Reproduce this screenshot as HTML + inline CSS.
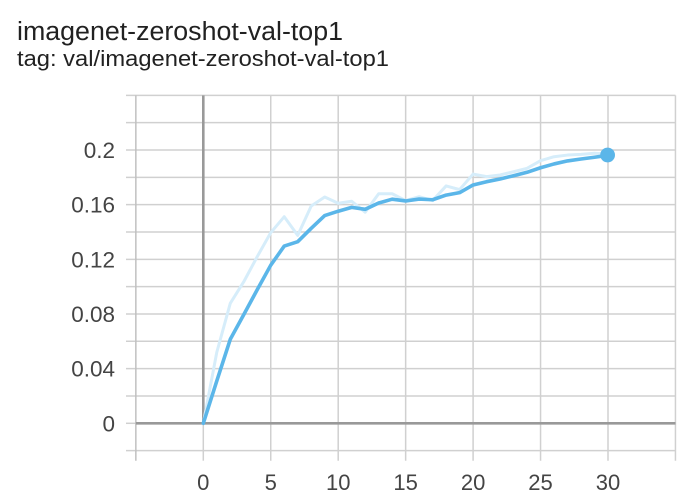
<!DOCTYPE html>
<html>
<head>
<meta charset="utf-8">
<style>
  html, body { margin: 0; padding: 0; background: #ffffff; }
  body { width: 692px; height: 502px; overflow: hidden; }
  svg { display: block; }
  text { font-family: "Liberation Sans", Arial, sans-serif; }
</style>
</head>
<body>
<svg width="692" height="502" viewBox="0 0 692 502" xmlns="http://www.w3.org/2000/svg">
  <rect x="0" y="0" width="692" height="502" fill="#ffffff"/>

  <!-- Title -->
  <text x="17" y="40" font-size="25.5" fill="#212121" textLength="326" lengthAdjust="spacingAndGlyphs">imagenet-zeroshot-val-top1</text>
  <text x="17" y="66" font-size="22" fill="#212121" textLength="372" lengthAdjust="spacingAndGlyphs">tag: val/imagenet-zeroshot-val-top1</text>

  <!-- Horizontal grid lines (with left tick extension) -->
  <g stroke="#d0d0d0" stroke-width="1.5" fill="none">
    <line x1="126" y1="450.63" x2="675.45" y2="450.63"/>
    <line x1="126" y1="423.3" x2="136" y2="423.3"/>
    <line x1="126" y1="395.97" x2="675.45" y2="395.97"/>
    <line x1="126" y1="368.64" x2="675.45" y2="368.64"/>
    <line x1="126" y1="341.31" x2="675.45" y2="341.31"/>
    <line x1="126" y1="313.98" x2="675.45" y2="313.98"/>
    <line x1="126" y1="286.65" x2="675.45" y2="286.65"/>
    <line x1="126" y1="259.32" x2="675.45" y2="259.32"/>
    <line x1="126" y1="231.99" x2="675.45" y2="231.99"/>
    <line x1="126" y1="204.66" x2="675.45" y2="204.66"/>
    <line x1="126" y1="177.33" x2="675.45" y2="177.33"/>
    <line x1="126" y1="150.0" x2="675.45" y2="150.0"/>
    <line x1="126" y1="122.67" x2="675.45" y2="122.67"/>
    <line x1="126" y1="95.34" x2="675.45" y2="95.34"/>
  </g>

  <!-- Vertical grid lines (with bottom tick extension) -->
  <g stroke="#d0d0d0" stroke-width="1.5" fill="none">
    <line x1="135.85" y1="95.34" x2="135.85" y2="460.7" stroke="#c0c0c0"/>
    <line x1="203.3" y1="423.3" x2="203.3" y2="460.7"/>
    <line x1="270.75" y1="95.34" x2="270.75" y2="460.7"/>
    <line x1="338.2" y1="95.34" x2="338.2" y2="460.7"/>
    <line x1="405.65" y1="95.34" x2="405.65" y2="460.7"/>
    <line x1="473.1" y1="95.34" x2="473.1" y2="460.7"/>
    <line x1="540.55" y1="95.34" x2="540.55" y2="460.7"/>
    <line x1="608.0" y1="95.34" x2="608.0" y2="460.7"/>
    <line x1="675.45" y1="95.34" x2="675.45" y2="460.7"/>
  </g>

  <!-- Zero axes -->
  <g stroke="#999999" stroke-width="2.6" fill="none">
    <line x1="135.85" y1="423.3" x2="675.45" y2="423.3"/>
    <line x1="203.3" y1="95.34" x2="203.3" y2="423.3"/>
  </g>

  <!-- Y tick labels -->
  <g font-size="22.5" fill="#444444" text-anchor="end">
    <text x="115" y="158">0.2</text>
    <text x="115" y="212.7">0.16</text>
    <text x="115" y="267.3">0.12</text>
    <text x="115" y="322">0.08</text>
    <text x="115" y="376.6">0.04</text>
    <text x="115" y="431.3">0</text>
  </g>

  <!-- X tick labels -->
  <g font-size="22" fill="#444444" text-anchor="middle">
    <text x="203.3" y="490">0</text>
    <text x="270.75" y="490">5</text>
    <text x="338.2" y="490">10</text>
    <text x="405.65" y="490">15</text>
    <text x="473.1" y="490">20</text>
    <text x="540.55" y="490">25</text>
    <text x="608.0" y="490">30</text>
  </g>

  <!-- Raw (unsmoothed) series -->
  <polyline fill="none" stroke="#d6edfa" stroke-width="3" stroke-linejoin="round" stroke-linecap="round"
    points="203.3,423.3 216.79,352.24 230.28,303.32 243.77,281.73 257.26,256.59 270.75,232.67 284.24,216.69 297.73,235.41 311.22,206.03 324.71,197.01 338.2,203.29 351.69,201.24 365.18,212.18 378.67,193.73 392.16,193.73 405.65,200.56 419.14,196.73 432.63,200.56 446.12,185.93 459.61,189.63 473.1,174.05 486.59,176.65 500.08,175.01 513.57,171.73 527.06,168.31 540.55,160.66 554.04,156.70 567.53,155.06 581.02,154.38 594.51,153.28 608.0,154.1"/>

  <!-- Smoothed series -->
  <polyline fill="none" stroke="#5bb6e9" stroke-width="3.6" stroke-linejoin="round" stroke-linecap="round"
    points="203.3,423.3 216.79,380.94 230.28,339.26 243.77,314.66 257.26,289.66 270.75,265.19 284.24,246.07 297.73,241.69 311.22,228.30 324.71,215.59 338.2,211.22 351.69,207.39 365.18,209.31 378.67,203.02 392.16,199.19 405.65,200.97 419.14,199.06 432.63,199.74 446.12,195.09 459.61,192.63 473.1,184.98 486.59,181.70 500.08,178.97 513.57,175.69 527.06,172.27 540.55,167.76 554.04,163.94 567.53,160.93 581.02,159.02 594.51,157.24 608.0,155.3"/>

  <!-- End point marker -->
  <circle cx="607.6" cy="155" r="7.4" fill="#5bb6e9"/>
</svg>
</body>
</html>
